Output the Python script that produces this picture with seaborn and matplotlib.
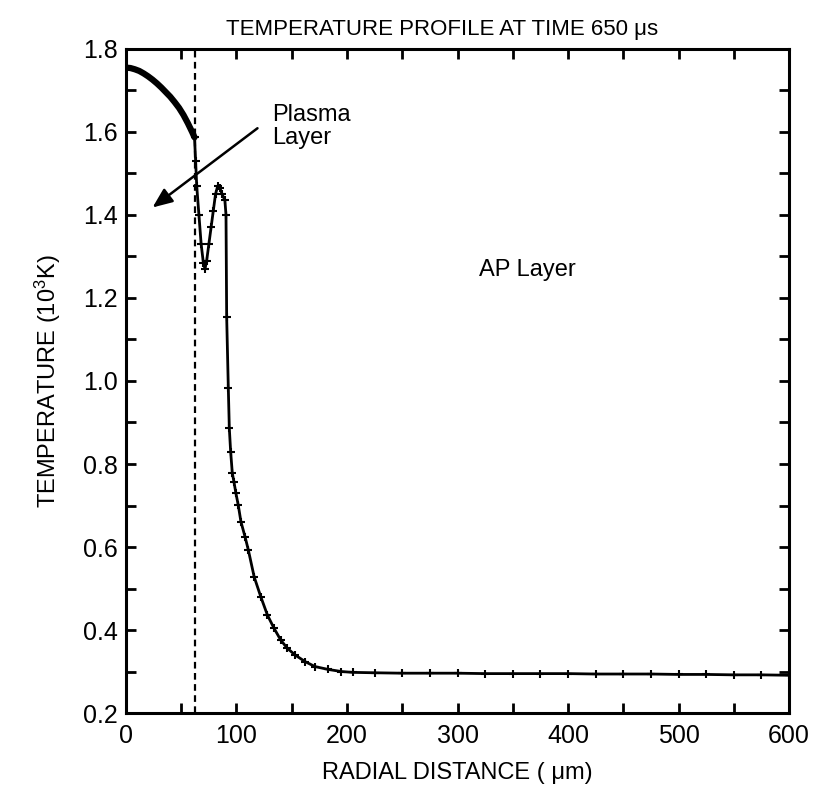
import matplotlib
matplotlib.use("Agg")
import matplotlib.pyplot as plt
import numpy as np
import pandas as pd
import seaborn as sns
from matplotlib.ticker import MultipleLocator

# plasma layer part of the profile (dense sampling -> thick line)
plasma_r = [0, 4, 8, 12, 16, 20, 24, 28, 32, 36, 40, 44, 48, 52, 56, 60, 62]
plasma_t = [1.755, 1.754, 1.751, 1.747, 1.741, 1.734, 1.726, 1.717, 1.707, 1.696,
            1.685, 1.672, 1.658, 1.641, 1.621, 1.599, 1.587]

# AP layer part of the profile (marked points)
ap_r = [62, 63, 64, 66, 68, 70, 71.5, 73, 75, 77, 79, 81, 83, 85, 87, 89.5, 90.5,
        91.1, 92.6, 93.5, 94.7, 96.2, 97.7, 99.5, 101.6, 104, 107.7, 110.7, 116, 122,
        128, 134, 140, 146, 153, 162, 171, 183, 195, 205, 225, 250, 275, 300, 325,
        350, 375, 400, 425, 450, 475, 500, 525, 550, 575, 600]
ap_t = [1.587, 1.53, 1.47, 1.40, 1.33, 1.285, 1.27, 1.29, 1.33, 1.37, 1.41, 1.45,
        1.47, 1.465, 1.45, 1.435, 1.40, 1.155, 0.982, 0.886, 0.830, 0.778, 0.757,
        0.729, 0.701, 0.661, 0.625, 0.593, 0.528, 0.480, 0.436, 0.404, 0.376, 0.356,
        0.340, 0.324, 0.312, 0.305, 0.300, 0.298, 0.297, 0.296, 0.296, 0.296, 0.295,
        0.295, 0.295, 0.295, 0.294, 0.294, 0.294, 0.293, 0.293, 0.292, 0.292, 0.291]

interface_r = 62

sns.set_style("ticks")
plt.rcParams["font.family"] = ["Liberation Sans", "DejaVu Sans"]
plt.rcParams["mathtext.default"] = "regular"
plt.rcParams["text.color"] = "black"
plt.rcParams["axes.labelcolor"] = "black"

plasma = pd.DataFrame({"r": plasma_r, "T": plasma_t})
ap = pd.DataFrame({"r": ap_r, "T": ap_t})

fig = plt.figure(figsize=(8.15, 7.92), dpi=100)
ax = fig.add_axes([0.1546, 0.0997, 0.8135, 0.8385])

sns.lineplot(data=plasma, x="r", y="T", color="black", linewidth=4.5, ax=ax,
             estimator=None, sort=False)
sns.lineplot(data=ap, x="r", y="T", color="black", linewidth=2.0, marker="+",
             markersize=5.5, markeredgewidth=1.5, markeredgecolor="black",
             markerfacecolor="black", ax=ax, estimator=None, sort=False)
ax.axvline(interface_r, color="black", linestyle=(0, (3, 2)), linewidth=1.6)

ax.set_xlim(0, 600)
ax.set_ylim(0.2, 1.8)
ax.xaxis.set_major_locator(MultipleLocator(100))
ax.xaxis.set_minor_locator(MultipleLocator(50))
ax.yaxis.set_major_locator(MultipleLocator(0.2))
ax.yaxis.set_minor_locator(MultipleLocator(0.1))
ax.yaxis.set_major_formatter(plt.FuncFormatter(lambda v, p: f"{v:.1f}"))
ax.tick_params(which="both", direction="in", top=True, right=True, length=7,
               width=2, labelsize=18, color="black", labelcolor="black")
ax.tick_params(axis="x", pad=8)
ax.tick_params(axis="y", pad=6)
for s in ax.spines.values():
    s.set_linewidth(2.2)
    s.set_color("black")

ax.set_title("TEMPERATURE PROFILE AT TIME 650 μs", fontsize=16, pad=10, x=0.476)
ax.set_xlabel("RADIAL DISTANCE ( μm)", fontsize=17, labelpad=10)
ax.set_ylabel("TEMPERATURE (10$^3$K)", fontsize=17, labelpad=14)

ax.annotate("", xy=(22, 1.414), xytext=(121, 1.613),
            arrowprops=dict(arrowstyle="-|>,head_length=1.2,head_width=0.5",
                            color="black", lw=1.8))
ax.text(132, 1.614, "Plasma\nLayer", fontsize=17, ha="left", va="center",
        linespacing=1.05)
ax.text(363, 1.267, "AP Layer", fontsize=17, ha="center", va="center")

fig.savefig("out.png", dpi=100)
plt.close(fig)
